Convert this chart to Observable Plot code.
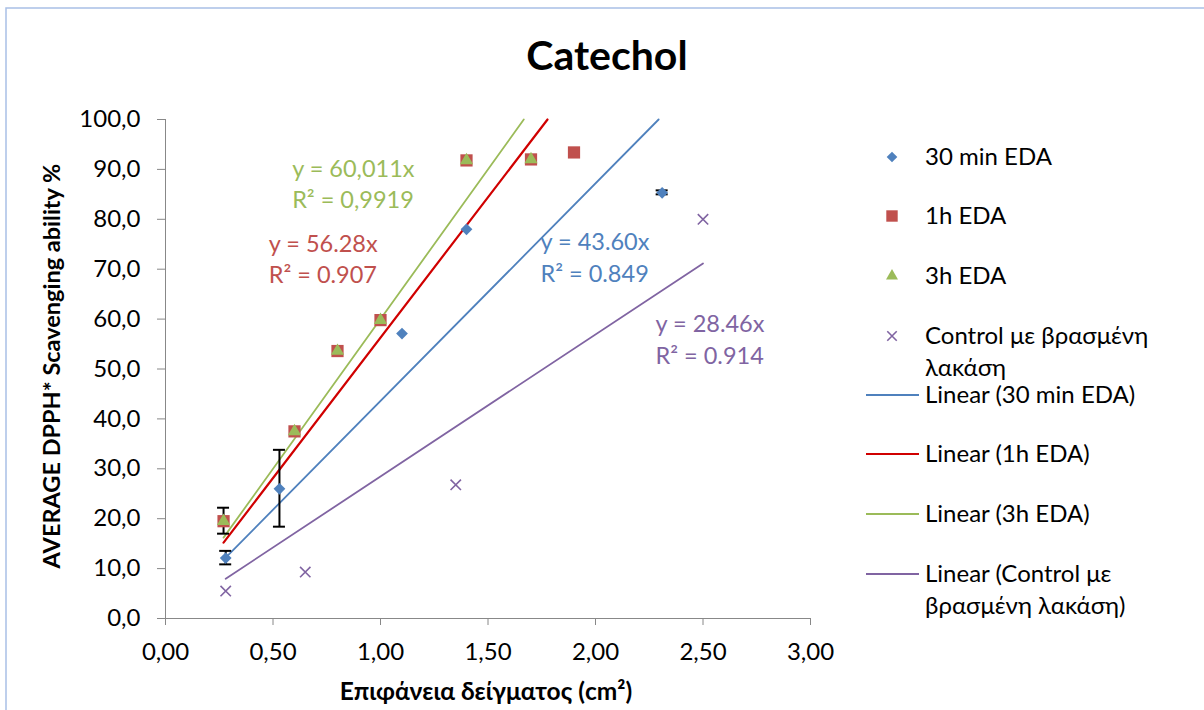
<!DOCTYPE html>
<html>
<head>
<meta charset="utf-8">
<script src="https://cdn.jsdelivr.net/npm/d3@7"></script>
<script src="https://cdn.jsdelivr.net/npm/@observablehq/plot@0.6"></script>
<style>
  html, body { margin: 0; padding: 0; background: #fff; }
  #chart { width: 1204px; height: 710px; }
</style>
</head>
<body>
<div id="chart"></div>
<script>
// ---------- data ----------
const xTicks = [0, 0.5, 1, 1.5, 2, 2.5, 3];
const yTicks = [0, 10, 20, 30, 40, 50, 60, 70, 80, 90, 100];

const seriesNames = ["30 min EDA", "1h EDA", "3h EDA", "Control με βρασμένη λακάση"];

const x30 = [0.28, 0.53, 1.10, 1.40, 2.31];
const y30 = [12.1, 26.0, 57.1, 78.0, 85.3];
const err30 = [1.35, 7.7, 0, 0, 0.4];

const x1h = [0.27, 0.60, 0.80, 1.00, 1.40, 1.70, 1.90];
const y1h = [19.5, 37.5, 53.6, 59.8, 91.8, 92.0, 93.4];
const err1h = [2.6, 0, 0, 0, 0, 0, 0];

const x3h = [0.27, 0.60, 0.80, 1.00, 1.40, 1.70];
const y3h = [19.5, 37.5, 53.6, 59.8, 91.8, 92.0];

const xCtrl = [0.28, 0.65, 1.35, 2.50];
const yCtrl = [5.5, 9.3, 26.8, 80.0];

const slopes = [43.60, 56.28, 60.011, 28.46];
const eqTexts = ["y = 43.60x\nR² = 0.849", "y = 56.28x\nR² = 0.907", "y = 60,011x\nR² = 0,9919", "y = 28.46x\nR² = 0.914"];
const eqX = [1.744, 0.480, 0.589, 2.279];
const eqY = [72.7, 72.4, 87.4, 56.2];

const title = "Catechol";
const xLabel = "Επιφάνεια δείγματος (cm²)";
const yLabel = "AVERAGE DPPH* Scavenging ability %";

// ---------- styles ----------
const markerColors = ["#4F81BD", "#C0504D", "#9BBB59", "#8064A2"];
const lineColors = ["#4F81BD", "#D00000", "#9BBB59", "#8064A2"];
const FONT = "Lato, 'Open Sans', sans-serif";
const FS = 24;

// ---------- build tables ----------
const pts = (xs, ys, errs) => xs.map((x, i) => ({x, y: ys[i], e: errs ? errs[i] : 0}));
const s30 = pts(x30, y30, err30);
const s1h = pts(x1h, y1h, err1h);
const s3h = pts(x3h, y3h);
const sCtrl = pts(xCtrl, yCtrl);
const allSeries = [s30, s1h, s3h, sCtrl];

const trend = [];
allSeries.forEach((s, k) => {
  const x0 = d3.min(s, d => d.x);
  const x1 = Math.min(d3.max(s, d => d.x), 100 / slopes[k]);
  trend.push({k, x: x0, y: slopes[k] * x0});
  trend.push({k, x: x1, y: slopes[k] * x1});
});
const errRows = [...s30, ...s1h].filter(d => d.e > 0);
const eqRows = eqTexts.map((t, k) => ({t, x: eqX[k], y: eqY[k], k}));

const plot = Plot.plot({
  width: 1204,
  height: 710,
  marginLeft: 165,
  marginRight: 394,
  marginTop: 119,
  marginBottom: 92,
  style: {fontFamily: FONT, fontSize: FS + "px", background: "transparent", overflow: "visible"},
  x: {type: "linear", domain: [0, 3]},
  y: {type: "linear", domain: [0, 100]},
  marks: [
    Plot.ruleX([0], {stroke: "#888"}),
    Plot.ruleY([0], {stroke: "#888"}),
    Plot.axisY({ticks: yTicks, tickFormat: d => d.toFixed(1).replace(".", ","), tickSize: 8, tickPadding: 17,
      stroke: "#888", fill: "#000", fontSize: FS, label: null}),
    Plot.axisX({ticks: xTicks, tickFormat: d => d.toFixed(2).replace(".", ","), tickSize: 7, tickPadding: 17,
      stroke: "#888", fill: "#000", fontSize: FS, label: null}),
    Plot.line(trend, {x: "x", y: "y", z: "k", stroke: d => lineColors[d.k], strokeWidth: d => d.k === 1 ? 2.2 : 1.8}),
    Plot.ruleX(errRows, {x: "x", y1: d => d.y - d.e, y2: d => d.y + d.e, stroke: "#000", strokeWidth: 2}),
    Plot.dot(s30, {x: "x", y: "y", symbol: "diamond2", r: 5.3, fill: markerColors[0], stroke: "none"}),
    Plot.dot(s1h, {x: "x", y: "y", symbol: "square", r: 6.9, fill: markerColors[1], stroke: "none"}),
    Plot.dot(s3h, {x: "x", y: "y", symbol: "triangle", r: 4.9, fill: markerColors[2], stroke: "none"}),
    Plot.dot(sCtrl, {x: "x", y: "y", symbol: "times", r: 4.8, stroke: markerColors[3], strokeWidth: 1.6}),
    Plot.text(eqRows, {x: "x", y: "y", text: "t", textAnchor: "start", lineHeight: 1.35, fontSize: 23.5,
      fill: d => markerColors[d.k]})
  ]
});
document.getElementById("chart").appendChild(plot);

// error bar caps (horizontal) via scales
const svg = d3.select(plot);
const sx = plot.scale("x"), sy = plot.scale("y");
const firstDot = plot.querySelector("g[aria-label='dot']");
const capG = d3.create("svg:g").attr("stroke", "#000").attr("stroke-width", 2);
errRows.forEach(d => {
  [d.y - d.e, d.y + d.e].forEach(v => {
    capG.append("line")
      .attr("x1", sx.apply(d.x) - 6).attr("x2", sx.apply(d.x) + 6)
      .attr("y1", sy.apply(v)).attr("y2", sy.apply(v));
  });
});
plot.insertBefore(capG.node(), firstDot);

// chart border (left & top visible)
svg.append("rect").attr("x", 6).attr("y", 8).attr("width", 1400).attr("height", 900)
  .attr("fill", "none").attr("stroke", "#A9C0E6").attr("stroke-width", 1.5);

// title and axis labels
svg.append("text").attr("x", 607).attr("y", 70).attr("text-anchor", "middle")
  .attr("font-family", FONT).attr("font-weight", "bold").attr("font-size", 41).attr("fill", "#000").text(title);
svg.append("text").attr("x", 486).attr("y", 700).attr("text-anchor", "middle")
  .attr("font-family", FONT).attr("font-weight", "bold").attr("font-size", 24.5).attr("fill", "#000").text(xLabel);
svg.append("text").attr("transform", "translate(60,366) rotate(-90)").attr("text-anchor", "middle")
  .attr("font-family", FONT).attr("font-weight", "bold").attr("font-size", 23.5).attr("fill", "#000").text(yLabel);

// legend
const lg = svg.append("g").attr("font-family", FONT).attr("font-size", FS).attr("fill", "#000")
  .attr("text-anchor", "start");
const markerRows = [
  {sym: d3.symbolDiamond2, size: 72, fill: markerColors[0], y: 157, lines: ["30 min EDA"]},
  {sym: d3.symbolSquare, size: 130, fill: markerColors[1], y: 216, lines: ["1h EDA"]},
  {sym: d3.symbolTriangle, size: 62, fill: markerColors[2], y: 276, lines: ["3h EDA"]},
  {sym: d3.symbolTimes, size: 60, stroke: markerColors[3], y: 336, lines: ["Control με βρασμένη", "λακάση"]}
];
markerRows.forEach(r => {
  const p = lg.append("path").attr("d", d3.symbol(r.sym, r.size)()).attr("transform", `translate(892,${r.y})`);
  if (r.fill) p.attr("fill", r.fill); else p.attr("fill", "none").attr("stroke", r.stroke).attr("stroke-width", 1.6);
  r.lines.forEach((t, i) => lg.append("text").attr("x", 925).attr("y", r.y + i * 32).attr("dy", "0.35em").text(t));
});
const lineRows = [
  {c: lineColors[0], y: 395, lines: ["Linear (30 min EDA)"]},
  {c: lineColors[1], y: 454, lines: ["Linear (1h EDA)"]},
  {c: lineColors[2], y: 514, lines: ["Linear (3h EDA)"]},
  {c: lineColors[3], y: 574, lines: ["Linear (Control με", "βρασμένη λακάση)"]}
];
lineRows.forEach(r => {
  lg.append("line").attr("x1", 866).attr("x2", 919).attr("y1", r.y).attr("y2", r.y)
    .attr("stroke", r.c).attr("stroke-width", 2);
  r.lines.forEach((t, i) => lg.append("text").attr("x", 925).attr("y", r.y + i * 32).attr("dy", "0.35em").text(t));
});
</script>
</body>
</html>
